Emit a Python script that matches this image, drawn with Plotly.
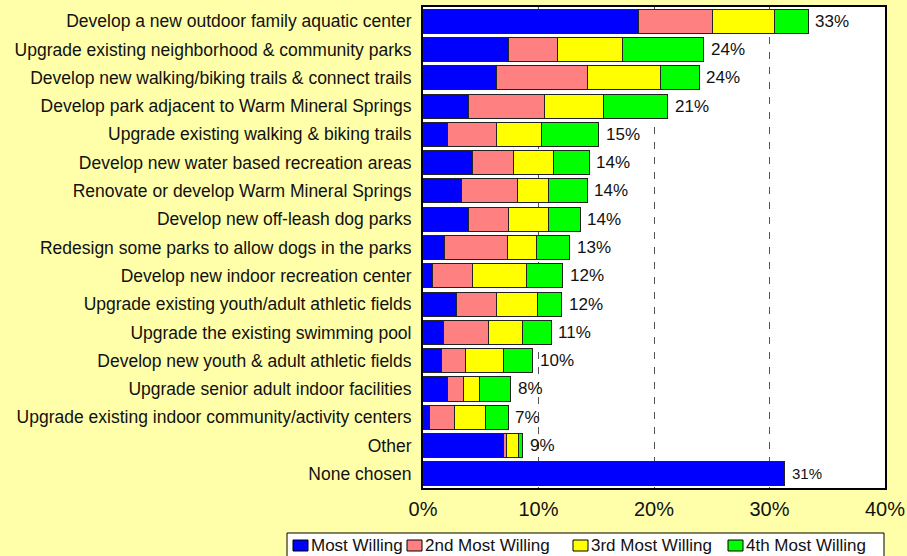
import plotly.graph_objects as go

categories = [
    "Develop a new outdoor family aquatic center",
    "Upgrade existing neighborhood & community parks",
    "Develop new walking/biking trails & connect trails",
    "Develop park adjacent to Warm Mineral Springs",
    "Upgrade existing walking & biking trails",
    "Develop new water based recreation areas",
    "Renovate or develop Warm Mineral Springs",
    "Develop new off-leash dog parks",
    "Redesign some parks to allow dogs in the parks",
    "Develop new indoor recreation center",
    "Upgrade existing youth/adult athletic fields",
    "Upgrade the existing swimming pool",
    "Develop new youth & adult athletic fields",
    "Upgrade senior adult indoor facilities",
    "Upgrade existing indoor community/activity centers",
    "Other",
    "None chosen",
]
most_willing = [18.7, 7.4, 6.4, 3.9, 2.1, 4.3, 3.3, 3.9, 1.9, 0.8, 2.9, 1.8, 1.6, 2.1, 0.6, 7.0, 31.3]
second_most  = [6.4, 4.25, 7.8, 6.6, 4.3, 3.5, 4.9, 3.5, 5.4, 3.5, 3.5, 3.9, 2.1, 1.4, 2.1, 0.25, 0.0]
third_most   = [5.3, 5.65, 6.4, 5.1, 3.9, 3.5, 2.7, 3.5, 2.5, 4.7, 3.5, 2.9, 3.3, 1.4, 2.7, 1.0, 0.0]
fourth_most  = [2.95, 7.0, 3.3, 5.6, 4.9, 3.1, 3.3, 2.7, 2.9, 3.1, 2.1, 2.5, 2.5, 2.7, 2.0, 0.4, 0.0]
total_labels = ["33%", "24%", "24%", "21%", "15%", "14%", "14%", "14%", "13%",
                "12%", "12%", "11%", "10%", "8%", "7%", "9%", "31%"]
series_names = ["Most Willing", "2nd Most Willing", "3rd Most Willing", "4th Most Willing"]
x_tick_vals = [0, 10, 20, 30, 40]
x_tick_text = ["0%", "10%", "20%", "30%", "40%"]

colors = ["#0000FF", "#FF8080", "#FFFF00", "#00FF00"]
FONT = "Liberation Sans, Arial, sans-serif"

W, H = 907, 556
ML, MR, MT, MB = 423, 22, 7, 68
PW, PH = W - ML - MR, H - MT - MB


def px_x(px):
    return (px - ML) / PW


def px_y(py):
    return (H - MB - py) / PH


fig = go.Figure()
for name, vals, col in zip(series_names, [most_willing, second_most, third_most, fourth_most], colors):
    fig.add_trace(go.Bar(
        y=categories, x=vals, name=name, orientation="h",
        marker=dict(color=col, line=dict(color="#222222", width=1)),
        hoverinfo="x+name", showlegend=False,
    ))

totals = [a + b + c + d for a, b, c, d in zip(most_willing, second_most, third_most, fourth_most)]
annotations = []
for i, (cat, tot, lab) in enumerate(zip(categories, totals, total_labels)):
    annotations.append(dict(
        x=tot, y=cat, xref="x", yref="y", text=lab, showarrow=False,
        xanchor="left", yanchor="middle", xshift=5,
        font=dict(size=15 if i == len(categories) - 1 else 17, color="#111111", family=FONT),
    ))

# custom legend (box, colour swatches, labels)
shapes = [dict(type="rect", xref="paper", yref="paper",
               x0=px_x(287), x1=px_x(884), y0=px_y(562), y1=px_y(533),
               fillcolor="#FFFFFF", line=dict(color="#000000", width=1), layer="above")]
swatch_left = [293, 407, 573, 728]
for name, col, sx in zip(series_names, colors, swatch_left):
    shapes.append(dict(type="rect", xref="paper", yref="paper",
                       x0=px_x(sx), x1=px_x(sx + 15), y0=px_y(551), y1=px_y(540),
                       fillcolor=col, line=dict(color="#000000", width=1), layer="above"))
    annotations.append(dict(
        x=px_x(sx + 16), y=px_y(545.5), xref="paper", yref="paper", text=name,
        showarrow=False, xanchor="left", yanchor="middle",
        font=dict(size=17, color="#111111", family=FONT),
    ))

fig.update_layout(
    barmode="stack",
    bargap=0.15,
    width=W, height=H,
    margin=dict(l=ML, r=MR, t=MT, b=MB, autoexpand=False),
    paper_bgcolor="#FFFFAA",
    plot_bgcolor="#FFFFFF",
    font=dict(family=FONT, color="#111111", size=14),
    showlegend=False,
    annotations=annotations,
    shapes=shapes,
    xaxis=dict(
        range=[0, 40], tickvals=x_tick_vals, ticktext=x_tick_text,
        showgrid=True, gridcolor="#555555", griddash="7px,8px", gridwidth=1,
        zeroline=False, showline=True, mirror=True, linecolor="#000000", linewidth=2,
        ticks="outside", ticklen=2, tickcolor="rgba(0,0,0,0)",
        tickfont=dict(size=20, family=FONT),
    ),
    yaxis=dict(
        autorange="reversed", showgrid=False, zeroline=False,
        showline=True, mirror=True, linecolor="#000000", linewidth=2,
        ticks="outside", ticklen=6, tickcolor="rgba(0,0,0,0)",
        tickfont=dict(size=17.5, family=FONT),
    ),
)

fig.write_html(
    "out.html",
    config={"displayModeBar": False},
    post_script="document.body.style.margin='0px';document.body.style.padding='0px';",
)
